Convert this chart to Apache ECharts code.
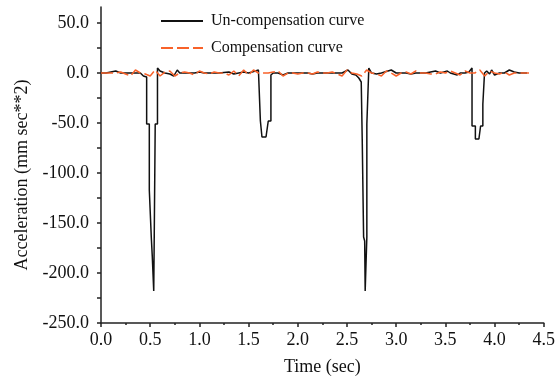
<!DOCTYPE html>
<html>
<head>
<meta charset="utf-8">
<script src="https://cdn.jsdelivr.net/npm/echarts@6/dist/echarts.min.js"></script>
<style>html,body{margin:0;padding:0;background:#fff}#c{width:558px;height:381px}</style>
</head>
<body>
<div id="c"></div>
<script>
// ---- data ----
const seriesNames = ['Un-compensation curve', 'Compensation curve'];
const yTickLabels = [-250, -200, -150, -100, -50, 0, 50];
const yTickMarks = [-250, -225, -200, -175, -150, -125, -100, -75, -50, -25, 0, 25, 50];

const uncompTime = [0.00, 0.05, 0.10, 0.15, 0.20, 0.25, 0.30, 0.35, 0.40, 0.431,
  0.464, 0.464, 0.491, 0.491, 0.511, 0.511, 0.521, 0.531, 0.536, 0.541, 0.551, 0.551, 0.574, 0.574,
  0.60, 0.65, 0.70, 0.74, 0.775, 0.80, 0.85, 0.90, 0.95, 1.00, 1.02, 1.05, 1.10, 1.20, 1.30, 1.35,
  1.40, 1.45, 1.50, 1.57, 1.60, 1.620, 1.620, 1.636, 1.636, 1.677, 1.700, 1.700, 1.727, 1.727,
  1.75, 1.80, 1.85, 1.87, 1.90, 1.95, 2.00, 2.05, 2.10, 2.15, 2.20, 2.25, 2.30, 2.35, 2.40, 2.45,
  2.51, 2.55, 2.59, 2.62, 2.645, 2.655, 2.655, 2.669, 2.669, 2.680, 2.685, 2.692, 2.702, 2.702,
  2.722, 2.722, 2.75, 2.80, 2.85, 2.95, 3.00, 3.05, 3.10, 3.15, 3.20, 3.30, 3.35, 3.40, 3.45,
  3.52, 3.55, 3.62, 3.65, 3.70, 3.74, 3.771, 3.771, 3.805, 3.805, 3.841, 3.858, 3.881, 3.881,
  3.898, 3.898, 3.92, 3.95, 3.97, 4.00, 4.05, 4.10, 4.15, 4.20, 4.25, 4.30, 4.33];
const uncompAccel = [0, 0, 1, 2, 0, 0, 0, 0, 0, -3,
  -4, -51, -51, -117, -117, -164, -183, -183, -218, -164, -164, -51, -51, 5,
  2, 0, -1, -3, 3, 0, 0, 0, 0, 1, 2, 0, 0, 0, 1, -1,
  0, 1, 0, 2, 3, 3, -48, -48, -64, -64, -48, -48, -48, -2,
  0, 0, -2, -4, 0, 0, 0, 0, 0, -1, 0, 0, 0, 0, 0, 0,
  3, -1, -2, -5, -9, -11, -66, -66, -164, -168, -218, -218, -164, -51,
  -51, 5, 0, -1, 0, 3, 0, 0, 0, -1, 0, 0, 1, 2, 0,
  2, 0, -2, 0, 0, 1, 5, -53, -53, -66, -66, -53, -53, -31,
  -31, 0, 2, -1, 3, -2, 0, 0, 3, 1, 0, 0, 0];

const compTime = [0.00, 0.05, 0.10, 0.15, 0.20, 0.25, 0.30, 0.35, 0.40, 0.45,
  0.50, 0.55, 0.60, 0.65, 0.70, 0.75, 0.80, 0.85, 0.90, 0.95,
  1.00, 1.05, 1.10, 1.15, 1.20, 1.25, 1.30, 1.35, 1.40, 1.45,
  1.50, 1.55, 1.60, 1.65, 1.70, 1.75, 1.80, 1.85, 1.90, 1.95,
  2.00, 2.05, 2.10, 2.15, 2.20, 2.25, 2.30, 2.35, 2.40, 2.45,
  2.50, 2.55, 2.60, 2.65, 2.70, 2.75, 2.80, 2.85, 2.90, 2.95,
  3.00, 3.05, 3.10, 3.15, 3.20, 3.25, 3.30, 3.35, 3.40, 3.45,
  3.50, 3.55, 3.60, 3.65, 3.70, 3.75, 3.80, 3.85, 3.90, 3.95,
  4.00, 4.05, 4.10, 4.15, 4.20, 4.25, 4.30, 4.35];
const compAccel = [0, 0, 0, 0, 1, -1, -3, 3, 0, -1,
  -3, 3, -3, 1, 2, -3, 0, 1, 0, -2,
  2, 0, -1, 1, 0, 0, -2, 2, -3, 3,
  -2, 3, 0, 0, 0, 1, 2, -3, 0, 0,
  -1, 0, 0, -1, 1, 0, 0, 1, -1, -3,
  3, 0, -1, -3, 3, 0, -1, -3, 2, 0,
  -3, 0, 1, -1, 2, 0, 0, -1, -1, 1,
  0, 2, 0, -2, 2, 0, 0, 3, -3, 2,
  0, -1, 1, -2, 0, 0, 0, 0];

// ---- chart ----
const FONT = 'Liberation Serif';
const chart = echarts.init(document.getElementById('c'), null, {renderer: 'canvas'});
const axisColor = '#222';
chart.setOption({
  animation: false,
  backgroundColor: '#fff',
  grid: {left: 101, right: 8, top: 7, bottom: 52, containLabel: false},
  legend: {
    orient: 'vertical', left: 160, top: 13, padding: 0,
    itemWidth: 42, itemHeight: 14, itemGap: 11,
    itemStyle: {opacity: 0},
    textStyle: {fontFamily: FONT, fontSize: 16, color: '#111', padding: [0, 0, 0, 3]},
    data: seriesNames
  },
  xAxis: {
    type: 'value', min: 0, max: 4.5, interval: 0.5,
    name: 'Time (sec)', nameLocation: 'middle', nameGap: 35,
    nameTextStyle: {fontFamily: FONT, fontSize: 18, color: '#111'},
    axisLine: {onZero: false, lineStyle: {color: axisColor, width: 1.5}},
    axisTick: {length: 4, lineStyle: {color: axisColor, width: 1.5}},
    minorTick: {show: true, splitNumber: 2, length: 2, lineStyle: {color: axisColor, width: 1.5}},
    axisLabel: {fontFamily: FONT, fontSize: 18, color: '#111', margin: 8,
      formatter: v => v.toFixed(1)},
    splitLine: {show: false}
  },
  yAxis: {
    type: 'value', min: -250, max: 66,
    name: 'Acceleration (mm sec**2)', nameLocation: 'middle', nameGap: 67,
    nameTextStyle: {fontFamily: FONT, fontSize: 18, color: '#111', padding: [0, 20, 0, 0]},
    axisLine: {onZero: false, lineStyle: {color: axisColor, width: 1.5}},
    axisTick: {length: 4, customValues: yTickMarks, lineStyle: {color: axisColor, width: 1.5}},
    axisLabel: {fontFamily: FONT, fontSize: 18, color: '#111', margin: 12,
      customValues: yTickLabels, formatter: v => v.toFixed(1)},
    splitLine: {show: false}
  },
  series: [
    {
      name: seriesNames[0], type: 'line', symbol: 'none', z: 2,
      lineStyle: {color: '#111', width: 1.5},
      itemStyle: {color: '#111'},
      data: uncompTime.map((t, i) => [t, uncompAccel[i]])
    },
    {
      name: seriesNames[1], type: 'line', symbol: 'none', z: 3,
      lineStyle: {color: '#f8622a', width: 1.5, type: [12, 4]},
      itemStyle: {color: '#f8622a'},
      data: compTime.map((t, i) => [t, compAccel[i]])
    }
  ]
});
</script>
</body>
</html>
